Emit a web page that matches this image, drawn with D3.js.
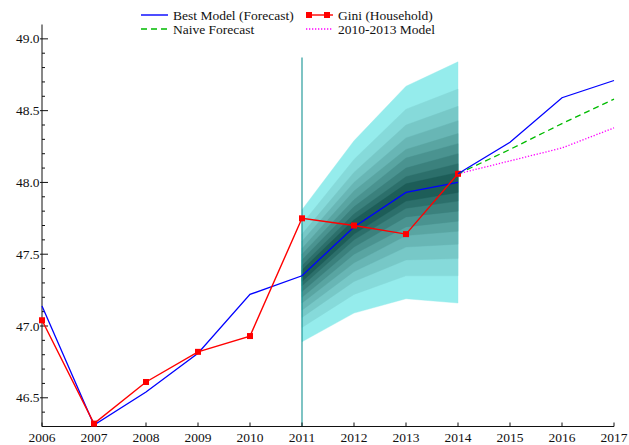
<!DOCTYPE html>
<html>
<head>
<meta charset="utf-8">
<script src="https://cdn.jsdelivr.net/npm/d3@7"></script>
<style>
  html, body { margin: 0; padding: 0; background: #fff; }
  svg { display: block; }
  text { font-family: "Liberation Serif", "DejaVu Serif", serif; fill: #111; }
</style>
</head>
<body>
<svg id="chart" width="629" height="445"></svg>
<script>
// ---- data ----
const years = [2006, 2007, 2008, 2009, 2010, 2011, 2012, 2013, 2014, 2015, 2016, 2017];

// observed household Gini
const giniYears = [2006, 2007, 2008, 2009, 2010, 2011, 2012, 2013, 2014];
const giniValues = [47.04, 46.32, 46.61, 46.82, 46.93, 47.75, 47.70, 47.64, 48.06];

// best model: in-sample fit and out-of-sample forecast
const fitYears = [2006, 2007, 2008, 2009, 2010, 2011, 2012, 2013, 2014];
const fitValues = [47.14, 46.31, 46.54, 46.81, 47.22, 47.35, 47.69, 47.93, 48.00];
const forecastYears = [2014, 2015, 2016, 2017];
const bestForecast = [48.06, 48.28, 48.59, 48.71];
const naiveForecast = [48.06, 48.23, 48.41, 48.58];
const model1013Forecast = [48.06, 48.15, 48.24, 48.38];

// fan chart: centre and half-widths of the 10%..90% intervals
const fanYears = [2011, 2012, 2013, 2014];
const fanCenter = [47.35, 47.69, 47.93, 48.00];
const fanLevels = [10, 20, 30, 40, 50, 60, 70, 80, 90];
const fanHalfWidth = [
  [0.04, 0.05, 0.06, 0.07],
  [0.07, 0.09, 0.11, 0.13],
  [0.11, 0.14, 0.17, 0.20],
  [0.15, 0.19, 0.24, 0.27],
  [0.19, 0.25, 0.30, 0.34],
  [0.24, 0.31, 0.38, 0.43],
  [0.29, 0.38, 0.47, 0.53],
  [0.36, 0.47, 0.58, 0.65],
  [0.46, 0.60, 0.74, 0.84]
];
const forecastStart = 2011;
const forecastLineTop = 48.87;

const yMajorTicks = [46.5, 47.0, 47.5, 48.0, 48.5, 49.0];
const yMinorTicks = [46.4, 46.6, 46.7, 46.8, 46.9, 47.1, 47.2, 47.3, 47.4, 47.6, 47.7, 47.8, 47.9,
                     48.1, 48.2, 48.3, 48.4, 48.6, 48.7, 48.8, 48.9];

// ---- layout ----
const svg = d3.select("#chart");
const x = d3.scaleLinear().domain([2006, 2017]).range([42, 614]);
const y = d3.scaleLinear().domain([46.3, 49.1]).range([426.5, 24.5]);

// ---- fan ----
const fanColor = d3.scaleLinear()
  .domain([90, 10])
  .range(["#95ecec", "#1d5d58"])
  .interpolate(d3.interpolateRgb);

const fanArea = d3.area()
  .x(d => x(d.year))
  .y0(d => y(d.lo))
  .y1(d => y(d.hi));

const fanG = svg.append("g");
for (let i = fanLevels.length - 1; i >= 0; i--) {
  const band = fanYears.map((yr, j) => ({
    year: yr,
    lo: fanCenter[j] - fanHalfWidth[i][j],
    hi: fanCenter[j] + fanHalfWidth[i][j]
  }));
  fanG.append("path")
    .datum(band)
    .attr("d", fanArea)
    .attr("fill", fanColor(fanLevels[i]))
    .attr("stroke", fanColor(fanLevels[i]))
    .attr("stroke-width", 0.4);
}

// forecast origin marker
svg.append("line")
  .attr("x1", x(forecastStart)).attr("x2", x(forecastStart))
  .attr("y1", y(46.3)).attr("y2", y(forecastLineTop))
  .attr("stroke", "#139393").attr("stroke-width", 1.1);

// ---- axes ----
const axG = svg.append("g").attr("stroke", "#111").attr("stroke-width", 1);
axG.append("line").attr("x1", x(2006)).attr("x2", x(2017))
  .attr("y1", y(46.3)).attr("y2", y(46.3));
axG.append("line").attr("x1", x(2006)).attr("x2", x(2006))
  .attr("y1", y(46.3)).attr("y2", y(49.1));

axG.selectAll(".xt").data(years).join("line")
  .attr("x1", d => x(d)).attr("x2", d => x(d))
  .attr("y1", y(46.3)).attr("y2", y(46.3) - 4);
axG.selectAll(".ymaj").data(yMajorTicks).join("line")
  .attr("x1", x(2006) - 2).attr("x2", x(2006) + 6)
  .attr("y1", d => y(d)).attr("y2", d => y(d));
axG.selectAll(".ymin").data(yMinorTicks).join("line")
  .attr("x1", x(2006)).attr("x2", x(2006) + 3)
  .attr("y1", d => y(d)).attr("y2", d => y(d));

svg.selectAll(".xl").data(years).join("text")
  .attr("x", d => x(d)).attr("y", 441.5)
  .attr("text-anchor", "middle")
  .attr("font-size", 13.5)
  .text(d => d);
svg.selectAll(".yl").data(yMajorTicks).join("text")
  .attr("x", 39.5).attr("y", d => y(d) + 4.6)
  .attr("text-anchor", "end")
  .attr("font-size", 13.5)
  .text(d => d3.format(".1f")(d));

// ---- series ----
const line = d3.line().x(d => x(d[0])).y(d => y(d[1]));
const pairs = (xs, vs) => xs.map((v, i) => [v, vs[i]]);

svg.append("path").datum(pairs(fitYears, fitValues))
  .attr("d", line).attr("fill", "none").attr("stroke", "#0000ff").attr("stroke-width", 1.3);

svg.append("path").datum(pairs(giniYears, giniValues))
  .attr("d", line).attr("fill", "none").attr("stroke", "#ff0000").attr("stroke-width", 1.4);
svg.selectAll(".gm").data(pairs(giniYears, giniValues)).join("rect")
  .attr("x", d => x(d[0]) - 3).attr("y", d => y(d[1]) - 3)
  .attr("width", 6).attr("height", 6).attr("fill", "#ff0000");

svg.append("path").datum(pairs(forecastYears, model1013Forecast))
  .attr("d", line).attr("fill", "none").attr("stroke", "#ff00ff").attr("stroke-width", 1.3)
  .attr("stroke-dasharray", "1.3,1.7");
svg.append("path").datum(pairs(forecastYears, naiveForecast))
  .attr("d", line).attr("fill", "none").attr("stroke", "#00bb00").attr("stroke-width", 1.3)
  .attr("stroke-dasharray", "6,4");
svg.append("path").datum(pairs(forecastYears, bestForecast))
  .attr("d", line).attr("fill", "none").attr("stroke", "#0000ff").attr("stroke-width", 1.3);

// ---- legend ----
const legendItems = [
  { label: "Best Model (Forecast)", color: "#0000ff", dash: null, marker: false, col: 0, row: 0 },
  { label: "Gini (Household)", color: "#ff0000", dash: null, marker: true, col: 1, row: 0 },
  { label: "Naive Forecast", color: "#00bb00", dash: "6,4", marker: false, col: 0, row: 1 },
  { label: "2010-2013 Model", color: "#ff00ff", dash: "1.3,1.7", marker: false, col: 1, row: 1 }
];
const colX = [141, 306];
const rowY = [15, 29];
const lg = svg.append("g");
legendItems.forEach(it => {
  const x0 = colX[it.col], yy = rowY[it.row];
  lg.append("line")
    .attr("x1", x0).attr("x2", x0 + 27).attr("y1", yy).attr("y2", yy)
    .attr("stroke", it.color).attr("stroke-width", 1.4)
    .attr("stroke-dasharray", it.dash);
  if (it.marker) {
    [x0 + 3, x0 + 21].forEach(mx => {
      lg.append("rect").attr("x", mx - 3).attr("y", yy - 3)
        .attr("width", 6).attr("height", 6).attr("fill", it.color);
    });
  }
  lg.append("text")
    .attr("x", x0 + 32).attr("y", yy + 5)
    .attr("font-size", 13.5)
    .text(it.label);
});
</script>
</body>
</html>
